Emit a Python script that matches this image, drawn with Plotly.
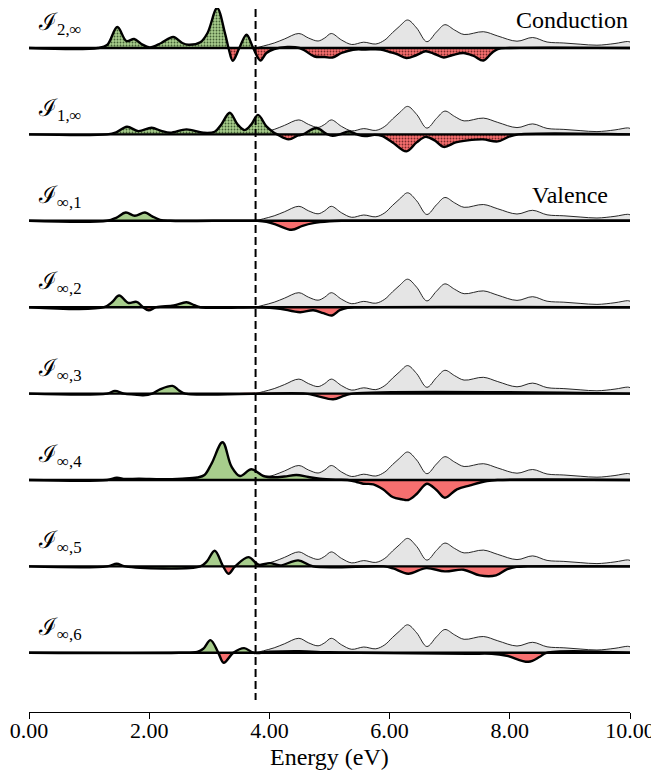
import plotly.graph_objects as go

# ---------------- data (amplitudes) ----------------
tick_vals = [0, 2, 4, 6, 8, 10]
tick_labels = ["0.00", "2.00", "4.00", "6.00", "8.00", "10.00"]
gap_energy = 3.77

row_labels = ["ℐ<sub>2,∞</sub>", "ℐ<sub>1,∞</sub>", "ℐ<sub>∞,1</sub>", "ℐ<sub>∞,2</sub>",
              "ℐ<sub>∞,3</sub>", "ℐ<sub>∞,4</sub>", "ℐ<sub>∞,5</sub>", "ℐ<sub>∞,6</sub>"]

# background (gray) spectrum, same in every row
gray_x = [3.77, 3.9, 4.08, 4.25, 4.49, 4.65, 4.81, 4.92, 5.03, 5.2, 5.37, 5.57, 5.77, 5.92,
          6.05, 6.17, 6.3, 6.45, 6.62, 6.78, 6.92, 7.08, 7.24, 7.56, 7.8, 8.12, 8.38, 8.62,
          8.9, 9.17, 9.45, 9.75, 9.96, 10.0]
gray_y = [0, 2, 5, 9, 14.5, 10, 7, 10, 14.5, 8, 3.5, 5.8, 4, 8,
          15.5, 22, 28, 20, 6.3, 16, 23.3, 18, 13.5, 16.3, 12, 6.8, 10.5, 6,
          5, 3.8, 2.8, 4.5, 6.5, 6]

r1_x = [0, 1.15, 1.3, 1.47, 1.62, 1.75, 1.87, 2.01, 2.2, 2.4, 2.55, 2.65, 2.85, 2.97, 3.13, 3.26,
        3.32, 3.39, 3.5, 3.62, 3.73, 3.85, 3.95, 4.08, 4.3, 4.5, 4.6, 4.75, 4.92, 5.05, 5.2, 5.39,
        5.6, 5.85, 6.0, 6.12, 6.28, 6.45, 6.6, 6.75, 6.9, 7.05, 7.23, 7.4, 7.56, 7.7, 7.8, 8.0, 10]
r1_y = [0, 0, 3, 21, 7, 9, 4, 0.5, 5, 11, 5, 3.3, 5.7, 15, 40, 15,
        0, -12.7, 0, 13.3, 0, -12.5, -5, -1, 1, 0, -3, -8.5, -9, -9.5, -5, -1.7,
        -1.5, -1.5, -4, -6, -10, -7, -3.3, -6, -9.5, -7, -5, -8, -12.5, -5, -1, 0, 0]

r2_x = [0, 1.3, 1.45, 1.63, 1.82, 2.04, 2.2, 2.35, 2.62, 2.9, 3.09, 3.2, 3.34, 3.47, 3.59, 3.7,
        3.81, 3.95, 4.07, 4.13, 4.32, 4.48, 4.56, 4.78, 4.95, 5.05, 5.17, 5.32, 5.46, 5.59, 5.75,
        5.87, 6.05, 6.28, 6.45, 6.6, 6.75, 6.9, 7.1, 7.3, 7.55, 7.8, 8.0, 8.15, 10]
r2_y = [0, 0, 2, 7.7, 3.3, 6.7, 3.5, 1.7, 5, 1.7, 2.7, 10, 21.7, 10, 4.3, 10,
        19.5, 8, 2, 0, -5, -1, 0, 6.4, 0.5, -1.5, 0, 3, 0, -1.7, -0.5,
        -1.5, -8, -17, -8, -2.5, -6, -12.5, -8, -6, -5, -7, -2, 0, 0]

r3_x = [0, 1.3, 1.45, 1.61, 1.76, 1.93, 2.05, 2.18, 2.35, 3.8, 3.95, 4.12, 4.37, 4.55, 4.73, 5.0, 5.2, 10]
r3_y = [0, 0, 3, 8.3, 5, 8.3, 4.5, 1, 0, 0, -1, -4, -9, -5, -2.3, -0.5, 0, 0]

r4_x = [0, 1.25, 1.38, 1.5, 1.65, 1.79, 1.9, 1.99, 2.12, 2.41, 2.62, 2.75, 2.85, 3.8, 4.0, 4.18,
        4.51, 4.73, 4.9, 5.04, 5.17, 5.3, 5.5, 10]
r4_y = [0, 0, 5, 11.7, 4.3, 5.3, 0, -3, 0, 1.7, 5, 2, 0, 0, -0.5, -1.5,
        -5, -3, -6, -8.3, -3, -0.5, 0, 0]

r5_x = [0, 1.3, 1.43, 1.58, 1.75, 1.9, 2.05, 2.18, 2.39, 2.5, 2.6, 4.6, 4.8, 5.06, 5.25, 5.39, 10]
r5_y = [0, 0, 2.7, 0, -1, -1.7, 0, 4.3, 7.7, 3, 0, 0, -2.5, -5.7, -2, 0, 0]

r6_x = [0, 1.3, 1.46, 1.6, 1.83, 2.2, 2.55, 2.8, 2.92, 3.04, 3.22, 3.37, 3.51, 3.7, 3.9, 4.07,
        4.25, 4.45, 4.65, 4.84, 5.1, 5.3, 5.45, 5.56, 5.73, 5.89, 6.05, 6.2, 6.31, 6.45, 6.62,
        6.78, 6.92, 7.12, 7.34, 7.62, 7.8, 10]
r6_y = [0, 0, 2.3, 1, 1.3, 0.8, 1.3, 2.5, 5, 16.7, 37.7, 13.3, 4, 10.7, 4, 2.7,
        3.5, 5, 3, 1.3, 0.3, 0, -2, -3.7, -4.3, -9.3, -17, -19.3, -20, -14, -3.7,
        -10, -17.7, -9.3, -5.3, -1, 0, 0]

r7_x = [0, 1.3, 1.46, 1.6, 2.85, 2.96, 3.09, 3.23, 3.32, 3.43, 3.65, 3.82, 4.01, 4.18, 4.48, 4.73,
        5.9, 6.06, 6.31, 6.61, 6.92, 7.23, 7.5, 7.77, 7.95, 8.11, 8.3, 10]
r7_y = [0, 0, 2.7, 0, 0, 5, 15.7, 0, -7.3, 0, 9.3, 1.7, 3.3, 1, 6, 0,
        0, -2, -7.3, -1.7, -5, -3.3, -9, -9, -3, -0.5, 0, 0]

r8_x = [0, 2.5, 2.8, 2.9, 3.02, 3.15, 3.24, 3.4, 3.58, 3.74, 4.0, 4.5, 5.0, 5.5, 7.3, 7.7, 7.95,
        8.31, 8.5, 8.61, 10]
r8_y = [0, 0, 1, 4, 12.7, 0, -10, 0, 4.7, 0, 1, 1.5, 0.5, 0, -1, -1, -3,
        -9, -4, 0, 0]

rows_x = [r1_x, r2_x, r3_x, r4_x, r5_x, r6_x, r7_x, r8_x]
rows_y = [r1_y, r2_y, r3_y, r4_y, r5_y, r6_y, r7_y, r8_y]

# ---------------- styling / layout ----------------
GREEN = "#a7cd8c"
RED = "#f76f6f"
GRAY = "#e5e5e5"
FONT = "Liberation Serif, DejaVu Serif, serif"
AXIS_Y = 712       # page px of the x axis line
PAGE_OFF = 8       # body margin of the html page
FIRST = 48         # page px of first baseline
STEP = 86.4        # px between rows
Y_TOP = AXIS_Y - PAGE_OFF   # data value at the top of the plot area

fig = go.Figure()
for i, (xs, ys) in enumerate(zip(rows_x, rows_y)):
    b = AXIS_Y - (FIRST + STEP * i)
    hatch = i < 2

    def base():
        fig.add_trace(go.Scatter(x=[0, 10], y=[b, b], mode="lines",
                                 line=dict(width=0, color="rgba(0,0,0,0)"),
                                 showlegend=False, hoverinfo="skip"))

    base()
    fig.add_trace(go.Scatter(x=gray_x, y=[b + v for v in gray_y], mode="lines",
                             line=dict(color="#111", width=0.9, shape="spline"),
                             fill="tonexty", fillcolor=GRAY, showlegend=False, hoverinfo="skip"))
    base()
    pos = dict(x=xs, y=[b + max(v, 0) for v in ys], mode="lines",
               line=dict(width=0, shape="spline", color=GREEN),
               fill="tonexty", fillcolor=GREEN, showlegend=False, hoverinfo="skip")
    if hatch:
        pos["fillpattern"] = dict(shape=".", fgcolor="#1a3010", fgopacity=0.7, size=3,
                                  solidity=0.3, bgcolor=GREEN)
    fig.add_trace(go.Scatter(**pos))
    base()
    neg = dict(x=xs, y=[b + min(v, 0) for v in ys], mode="lines",
               line=dict(width=0, shape="spline", color=RED),
               fill="tonexty", fillcolor=RED, showlegend=False, hoverinfo="skip")
    if hatch:
        neg["fillpattern"] = dict(shape=".", fgcolor="#400c0c", fgopacity=0.7, size=3,
                                  solidity=0.3, bgcolor=RED)
    fig.add_trace(go.Scatter(**neg))
    fig.add_trace(go.Scatter(x=xs, y=[b + v for v in ys], mode="lines",
                             line=dict(color="black", width=2.4, shape="spline"),
                             showlegend=False, hoverinfo="skip"))
    fig.add_trace(go.Scatter(x=[0, 10], y=[b, b], mode="lines",
                             line=dict(color="black", width=2.4),
                             showlegend=False, hoverinfo="skip"))
    fig.add_annotation(x=0.12, y=b + 7, xref="x", yref="y", text=row_labels[i],
                       showarrow=False, xanchor="left", yanchor="bottom",
                       font=dict(family=FONT, size=24, color="black"))

fig.add_annotation(x=10, y=AXIS_Y - FIRST + 28, xref="x", yref="y", text="Conduction",
                   showarrow=False, xanchor="right", yanchor="middle",
                   font=dict(family=FONT, size=24, color="black"))
fig.add_annotation(x=9.67, y=AXIS_Y - (FIRST + 2 * STEP) + 26, xref="x", yref="y", text="Valence",
                   showarrow=False, xanchor="right", yanchor="middle",
                   font=dict(family=FONT, size=24, color="black"))
fig.add_annotation(x=0.5, y=(AXIS_Y - 757) / Y_TOP, xref="paper", yref="paper",
                   text="Energy (eV)", showarrow=False, xanchor="center", yanchor="middle",
                   font=dict(family=FONT, size=24, color="black"))

fig.add_shape(type="line", x0=gap_energy, x1=gap_energy, y0=Y_TOP - 1, y1=AXIS_Y - 700,
              xref="x", yref="y", line=dict(color="black", width=2, dash="8px,4px"))

fig.update_layout(
    width=651, height=767,
    margin=dict(l=21, r=29, t=0, b=63),
    paper_bgcolor="white", plot_bgcolor="white",
    xaxis=dict(range=[0, 10], tickvals=tick_vals, ticktext=tick_labels,
               showgrid=False, zeroline=False, showline=True, linecolor="black", linewidth=1,
               ticks="outside", ticklen=6, tickcolor="black", tickwidth=1,
               ticklabelstandoff=-7,
               tickfont=dict(family=FONT, size=22, color="black")),
    yaxis=dict(range=[0, Y_TOP], visible=False, fixedrange=True),
)

fig.write_html("out.html")
